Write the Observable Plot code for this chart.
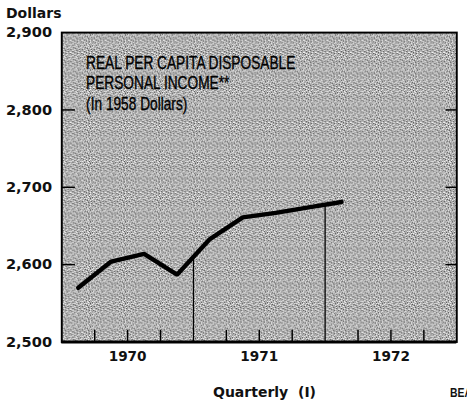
<!DOCTYPE html>
<html><head><meta charset="utf-8">
<script src="https://cdn.jsdelivr.net/npm/d3@7"></script>
<script src="https://cdn.jsdelivr.net/npm/@observablehq/plot@0.6"></script>
<style>
html,body{margin:0;padding:0;background:#fff;overflow:hidden;width:467px;height:401px}
#wrap{position:relative;width:467px;height:401px;overflow:hidden}
#chart{position:absolute;left:0;top:0}
.lbl{position:absolute;font-family:"DejaVu Sans",sans-serif;font-weight:bold;color:#111;white-space:nowrap;line-height:1}
</style></head><body>
<div id="wrap">
<div id="chart"></div>
<div class="lbl" style="left:6px;top:6px;font-size:14px">Dollars</div>
<div class="lbl" style="left:213px;top:385px;font-size:14px">Quarterly&nbsp;&nbsp;(I)</div>
<div class="lbl" id="bea" style="left:450px;top:386px;font-size:13px;font-family:'Liberation Sans',sans-serif;transform:scaleX(0.8);transform-origin:left top">BEA</div>
</div>
<script>
// Data
const years    = [1970, 1970, 1970, 1970, 1971, 1971, 1971, 1971, 1972];
const quarters = [1, 2, 3, 4, 1, 2, 3, 4, 1];
const income   = [2570, 2604, 2614, 2587, 2633, 2661, 2667, 2674, 2681];
const yTicks   = [2500, 2600, 2700, 2800, 2900];
const yearLabels = ["1970", "1971", "1972"];
const noteLines  = ["REAL PER CAPITA DISPOSABLE", "PERSONAL INCOME**", "(In 1958 Dollars)"];

const rows = years.map((yr, i) => ({t: yr + (quarters[i] - 0.5) / 4, v: income[i]}));
// year boundary rules rise to the line between Q4 and next Q1
const bounds = [];
for (let i = 1; i < rows.length; i++) {
  if (quarters[i] === 1) bounds.push({t: years[i], v: (income[i - 1] + income[i]) / 2});
}
const firstYear = +yearLabels[0];
const qTicks = d3.range(1, yearLabels.length * 4).map(k => firstYear + k / 4).filter(d => d % 1 !== 0);
const yearMid = yearLabels.map(y => +y + 0.5);

const W = 480, H = 401, mL = 63, mR = 11, mT = 33, mB = 50;
const innerW = W - mL - mR, innerH = H - mT - mB;

const chart = Plot.plot({
  width: W, height: H,
  marginLeft: mL, marginRight: mR, marginTop: mT, marginBottom: mB,
  style: {fontFamily: "'DejaVu Sans', sans-serif", fontSize: "15px", fontWeight: "bold", color: "#111", background: "transparent"},
  x: {domain: [firstYear, firstYear + yearLabels.length], label: null},
  y: {domain: [yTicks[0], yTicks[yTicks.length - 1]], label: null},
  marks: [
    Plot.frame({fill: "url(#stip)", stroke: "none"}),
    Plot.text([noteLines.join("\n")], {
      frameAnchor: "top-left", dx: 25, dy: 22, lineAnchor: "top", lineHeight: 1.17,
      fontSize: 18, fontWeight: "normal", fontFamily: "'Liberation Sans', sans-serif",
      fill: "#000", stroke: "#000", strokeWidth: 0.35, textAnchor: "start", className: "note"
    }),
    Plot.ruleY(yTicks.slice(1, -1), {stroke: "#000", strokeWidth: 1.5, insetRight: innerW - 14}),
    Plot.ruleY(yTicks.slice(1, -1), {stroke: "#000", strokeWidth: 1.5, insetLeft: innerW - 11}),
    Plot.ruleX(qTicks, {stroke: "#000", strokeWidth: 1.5, insetTop: innerH - 12}),
    Plot.ruleX(bounds, {x: "t", y1: yTicks[0], y2: "v", stroke: "#000", strokeWidth: 1.3}),
    Plot.line(rows, {x: "t", y: "v", stroke: "#000", strokeWidth: 4.5, strokeLinejoin: "miter"}),
    Plot.frame({stroke: "#000", strokeWidth: 2}),
    Plot.ruleY([yTicks[0]], {stroke: "#000", strokeWidth: 3}),
    Plot.axisY(yTicks, {tickSize: 0, tickPadding: 10, fontSize: 15, label: null, tickFormat: d => d3.format(",")(d)}),
    Plot.axisX(yearMid, {tickSize: 0, tickPadding: 10, fontSize: 14, label: null, tickFormat: d => yearLabels[Math.floor(d) - firstYear]})
  ]
});

// stipple texture
const svg = d3.select(chart);
const defs = svg.insert("defs", ":first-child");
const tile = [
  "abadbacbabcb",
  "bcabadbacbab",
  "dbabcbabadba",
  "abcbabdabcab",
  "badabcbabdab",
  "cbabdbabcbac",
  "abcbabadbabd",
  "bdbacbabcbab",
  "abcbdbacabab",
  "cbabacbdbacb",
  "abdbabcbabdb",
  "bacbcbabdbac"
];
const shade = {a: "#999999", b: "#bdbdbd", c: "#f4f4f4", d: "#555555"};
const pat = defs.append("pattern").attr("id", "stip").attr("width", 12).attr("height", 12)
  .attr("patternUnits", "userSpaceOnUse").attr("shape-rendering", "crispEdges");
tile.forEach((row, r) => [...row].forEach((ch, c) => {
  pat.append("rect").attr("x", c).attr("y", r).attr("width", 1).attr("height", 1).attr("fill", shade[ch]);
}));
document.getElementById("chart").appendChild(chart);

// condense the note lines (narrow type as in the original)
const tspans = chart.querySelectorAll(".note tspan");
if (tspans.length) {
  const first = tspans[0].getComputedTextLength();
  const k = 215 / first;
  tspans.forEach(ts => {
    const w = ts.getComputedTextLength();
    ts.setAttribute("textLength", (w * k).toFixed(1));
    ts.setAttribute("lengthAdjust", "spacingAndGlyphs");
  });
}
</script>
</body></html>
